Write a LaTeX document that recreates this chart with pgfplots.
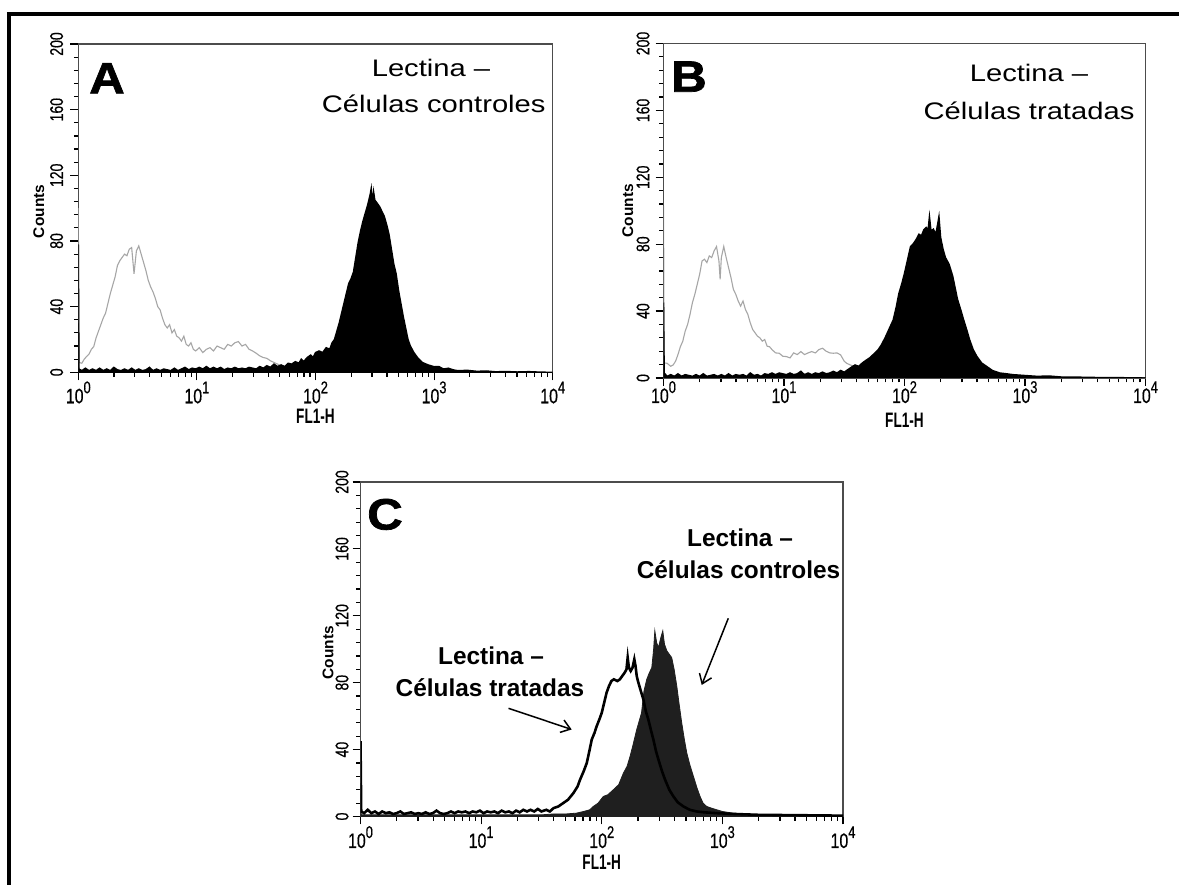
\documentclass[border=0pt]{standalone}
\usepackage{pgfplots}
\pgfplotsset{compat=1.18}
\usepackage{pgfplotstable}
\usepackage{fontspec}
\usetikzlibrary{arrows.meta}
\setmainfont{Liberation Sans}
\newfontfamily\narrowf[FakeStretch=0.76, FakeBold=0.5]{Liberation Sans}
\newfontfamily\lblf[FakeStretch=0.65]{Liberation Sans}
\newfontfamily\wideF[FakeStretch=1.22]{Liberation Sans}
\newfontfamily\heavyf[FakeBold=1.6, FakeStretch=1.12]{Liberation Sans}
\newcommand\fs[1]{\fontsize{#1}{#1}\selectfont}
\newcommand\xl[1]{\narrowf\fs{21}10\raisebox{10bp}{\fs{17}#1}}

% histogram outlines: t = log10(FL1-H), c = counts
\pgfplotstableread[row sep=\\]{
t c \\
0 78 \\ 0.006 2 \\ 0.03 1 \\ 0.06 2.5 \\ 0.09 1 \\ 0.12 2 \\ 0.15 1 \\ 0.18 2.5 \\ 0.21 1 \\ 0.24 2 \\ 0.27 1 \\ 0.30 3 \\ 0.33 1.5 \\ 0.36 1 \\ 0.39 2 \\ 0.42 1 \\ 0.45 2.5 \\ 0.48 1 \\ 0.51 2 \\ 0.54 1 \\ 0.57 1.5 \\ 0.60 3 \\ 0.63 1 \\ 0.66 2 \\ 0.69 1 \\ 0.72 2 \\ 0.75 1.5 \\ 0.78 1 \\ 0.81 2.5 \\ 0.84 1 \\ 0.87 2 \\ 0.90 3 \\ 0.93 1.5 \\ 0.96 2.5 \\ 0.99 2 \\ 1.02 3 \\ 1.05 2 \\ 1.08 3.5 \\ 1.11 2 \\ 1.14 3 \\ 1.17 2 \\ 1.20 3 \\ 1.23 1.5 \\ 1.26 2.5 \\ 1.29 2 \\ 1.32 3 \\ 1.35 2 \\ 1.38 2.5 \\ 1.41 2 \\ 1.44 3 \\ 1.47 2.5 \\ 1.50 2 \\ 1.53 3.5 \\ 1.56 2.5 \\ 1.59 4 \\ 1.62 3 \\ 1.65 5 \\ 1.68 3.5 \\ 1.71 4.5 \\ 1.74 3.5 \\ 1.77 5.5 \\ 1.80 5 \\ 1.83 6.5 \\ 1.86 5.5 \\ 1.88 8 \\ 1.90 6.5 \\ 1.93 9 \\ 1.96 10.5 \\ 1.98 9 \\ 2.00 12 \\ 2.03 13 \\ 2.06 12 \\ 2.09 15 \\ 2.12 14 \\ 2.14 18 \\ 2.16 20 \\ 2.18 25 \\ 2.20 30 \\ 2.22 36 \\ 2.24 42 \\ 2.26 48 \\ 2.28 54 \\ 2.30 57 \\ 2.32 61 \\ 2.34 70 \\ 2.36 79 \\ 2.38 86 \\ 2.40 92 \\ 2.42 97 \\ 2.44 102 \\ 2.46 108 \\ 2.47 112 \\ 2.48 103 \\ 2.49 110 \\ 2.50 105 \\ 2.52 103 \\ 2.54 101 \\ 2.56 98 \\ 2.58 95 \\ 2.60 90 \\ 2.62 84 \\ 2.64 75 \\ 2.66 66 \\ 2.68 60 \\ 2.70 50 \\ 2.72 42 \\ 2.74 34 \\ 2.76 27 \\ 2.78 20 \\ 2.80 16 \\ 2.83 12 \\ 2.86 9 \\ 2.90 6 \\ 2.95 4.5 \\ 3.00 3.4 \\ 3.04 3.5 \\ 3.08 2 \\ 3.12 2.5 \\ 3.16 1.5 \\ 3.20 1 \\ 3.28 1.2 \\ 3.36 0.6 \\ 3.44 0.8 \\ 3.52 0.3 \\ 3.60 0.5 \\ 3.70 0.2 \\ 3.80 0.4 \\ 3.90 0.1 \\ 4.00 0 \\
}\Ablack
\pgfplotstableread[row sep=\\]{
t c \\
0 100 \\ 0.006 6 \\ 0.03 5.5 \\ 0.05 8 \\ 0.07 9.6 \\ 0.09 11 \\ 0.11 14 \\ 0.13 15.6 \\ 0.15 21 \\ 0.17 25 \\ 0.19 29 \\ 0.21 33 \\ 0.23 36 \\ 0.25 42 \\ 0.27 48 \\ 0.29 53 \\ 0.31 58 \\ 0.33 65 \\ 0.35 68 \\ 0.37 70 \\ 0.39 72 \\ 0.41 71 \\ 0.43 75 \\ 0.45 76 \\ 0.47 60 \\ 0.49 74 \\ 0.51 77 \\ 0.53 72 \\ 0.55 67 \\ 0.57 62 \\ 0.59 56 \\ 0.61 52 \\ 0.63 49 \\ 0.65 45 \\ 0.67 40 \\ 0.69 38 \\ 0.71 33 \\ 0.73 29 \\ 0.75 27 \\ 0.77 29 \\ 0.79 24 \\ 0.81 26 \\ 0.83 22 \\ 0.85 21 \\ 0.87 19 \\ 0.89 22 \\ 0.91 17 \\ 0.93 16 \\ 0.95 18 \\ 0.97 14 \\ 0.99 13 \\ 1.02 15 \\ 1.05 12 \\ 1.08 14 \\ 1.11 15 \\ 1.14 13 \\ 1.17 16 \\ 1.20 15 \\ 1.23 14 \\ 1.26 17 \\ 1.29 16 \\ 1.32 18 \\ 1.35 18.7 \\ 1.38 16 \\ 1.41 17 \\ 1.44 14 \\ 1.47 13 \\ 1.50 11.6 \\ 1.53 10 \\ 1.56 9 \\ 1.59 8.5 \\ 1.62 7 \\ 1.65 6 \\ 1.68 5 \\ 1.71 4 \\ 1.74 3 \\ 1.77 2.5 \\ 1.80 2 \\ 1.85 1.5 \\ 1.90 1 \\
}\Agray
\pgfplotstableread[row sep=\\]{
t c \\
0 45 \\ 0.006 3 \\ 0.03 1 \\ 0.06 2 \\ 0.09 1 \\ 0.12 2.5 \\ 0.15 1 \\ 0.18 2 \\ 0.21 1.5 \\ 0.24 1 \\ 0.27 2 \\ 0.30 1 \\ 0.33 2.5 \\ 0.36 1 \\ 0.39 1.5 \\ 0.42 2 \\ 0.45 1 \\ 0.48 2 \\ 0.51 1 \\ 0.54 2.5 \\ 0.57 1 \\ 0.60 2 \\ 0.63 1.5 \\ 0.66 2 \\ 0.69 1 \\ 0.72 3 \\ 0.75 1.5 \\ 0.78 2 \\ 0.81 1 \\ 0.84 2.5 \\ 0.87 2 \\ 0.90 3 \\ 0.93 2 \\ 0.96 3 \\ 0.99 2.5 \\ 1.02 2 \\ 1.05 3 \\ 1.08 2 \\ 1.11 2.5 \\ 1.14 4 \\ 1.17 2 \\ 1.20 3 \\ 1.23 2 \\ 1.26 3 \\ 1.29 2.5 \\ 1.32 3.5 \\ 1.35 2.5 \\ 1.38 3 \\ 1.41 4 \\ 1.44 3 \\ 1.47 4.5 \\ 1.50 3.5 \\ 1.53 5 \\ 1.56 6.5 \\ 1.59 7.8 \\ 1.62 7 \\ 1.65 9 \\ 1.685 10.8 \\ 1.71 12 \\ 1.74 14 \\ 1.78 16.8 \\ 1.81 20 \\ 1.843 24.7 \\ 1.87 29 \\ 1.906 34.7 \\ 1.93 42 \\ 1.954 50.7 \\ 1.98 57 \\ 2.00 62.7 \\ 2.02 69 \\ 2.05 78.6 \\ 2.07 80 \\ 2.095 82.6 \\ 2.12 86 \\ 2.14 85 \\ 2.16 88.6 \\ 2.18 90 \\ 2.195 88 \\ 2.207 96.6 \\ 2.22 88 \\ 2.24 89 \\ 2.26 86 \\ 2.275 92 \\ 2.286 96.6 \\ 2.30 84 \\ 2.32 77 \\ 2.34 72 \\ 2.37 68 \\ 2.40 61 \\ 2.42 54 \\ 2.44 47 \\ 2.47 40 \\ 2.49 35 \\ 2.52 28 \\ 2.54 23 \\ 2.57 17 \\ 2.60 13 \\ 2.64 9 \\ 2.68 7 \\ 2.73 4.5 \\ 2.79 3 \\ 2.85 2.5 \\ 2.90 2 \\ 3.00 1.5 \\ 3.10 1 \\ 3.20 1.2 \\ 3.30 0.6 \\ 3.45 0.5 \\ 3.60 0.3 \\ 3.80 0.2 \\ 4.00 0 \\
}\Bblack
\pgfplotstableread[row sep=\\]{
t c \\
0 103 \\ 0.006 9 \\ 0.03 8.8 \\ 0.06 7 \\ 0.08 7.8 \\ 0.10 10 \\ 0.12 14 \\ 0.14 18.7 \\ 0.16 22 \\ 0.18 28 \\ 0.20 32 \\ 0.22 38 \\ 0.24 45 \\ 0.26 50 \\ 0.28 56 \\ 0.30 62 \\ 0.32 70 \\ 0.34 71 \\ 0.36 69 \\ 0.38 73 \\ 0.40 72 \\ 0.42 76 \\ 0.44 78.6 \\ 0.46 70 \\ 0.47 59 \\ 0.48 72 \\ 0.50 78.6 \\ 0.52 72 \\ 0.54 66 \\ 0.56 60 \\ 0.58 53 \\ 0.60 50 \\ 0.62 46 \\ 0.64 43 \\ 0.66 46 \\ 0.68 41 \\ 0.70 38 \\ 0.72 33 \\ 0.74 29 \\ 0.76 27 \\ 0.78 25 \\ 0.80 24 \\ 0.82 22 \\ 0.84 23 \\ 0.86 19 \\ 0.88 18.7 \\ 0.90 17 \\ 0.93 15 \\ 0.96 14.8 \\ 0.99 13 \\ 1.02 12.8 \\ 1.05 12 \\ 1.08 15 \\ 1.11 14 \\ 1.14 15.8 \\ 1.17 14 \\ 1.20 15 \\ 1.23 15.8 \\ 1.26 15 \\ 1.29 17 \\ 1.32 17.8 \\ 1.35 16 \\ 1.38 15 \\ 1.41 14.8 \\ 1.44 15 \\ 1.47 13.8 \\ 1.50 10 \\ 1.52 8.8 \\ 1.56 7.5 \\ 1.60 6.8 \\ 1.64 7 \\ 1.68 6 \\ 1.72 5 \\ 1.80 3 \\
}\Bgray
\pgfplotstableread[row sep=\\]{
t c \\
0 45 \\ 0.006 3 \\ 0.03 2 \\ 0.06 4 \\ 0.09 2 \\ 0.12 3 \\ 0.15 1.5 \\ 0.18 3 \\ 0.21 2 \\ 0.24 2.5 \\ 0.27 1.5 \\ 0.30 2 \\ 0.33 3 \\ 0.36 1.5 \\ 0.39 2 \\ 0.42 2.5 \\ 0.45 1.5 \\ 0.48 2 \\ 0.51 1.5 \\ 0.54 2.5 \\ 0.57 1.5 \\ 0.60 2 \\ 0.63 3.5 \\ 0.66 2 \\ 0.69 1.5 \\ 0.72 2 \\ 0.75 3 \\ 0.78 2 \\ 0.81 3 \\ 0.84 2.5 \\ 0.87 3 \\ 0.90 2 \\ 0.93 3 \\ 0.96 2.5 \\ 0.99 3.5 \\ 1.02 2 \\ 1.05 3 \\ 1.08 2.5 \\ 1.11 3 \\ 1.14 2 \\ 1.17 3.5 \\ 1.20 2.5 \\ 1.23 3 \\ 1.26 2 \\ 1.29 3.5 \\ 1.32 2.5 \\ 1.35 4 \\ 1.38 3 \\ 1.41 4 \\ 1.44 3 \\ 1.47 4.5 \\ 1.50 3 \\ 1.54 4 \\ 1.57 3 \\ 1.60 5 \\ 1.64 6 \\ 1.68 8 \\ 1.72 10 \\ 1.765 14 \\ 1.80 18 \\ 1.82 22 \\ 1.85 27 \\ 1.876 32 \\ 1.90 40 \\ 1.917 46 \\ 1.94 50 \\ 1.958 54 \\ 1.98 58 \\ 2.00 62 \\ 2.02 68 \\ 2.04 74 \\ 2.06 78 \\ 2.08 81 \\ 2.10 82 \\ 2.13 81 \\ 2.15 82 \\ 2.17 84 \\ 2.19 86 \\ 2.205 88 \\ 2.215 95 \\ 2.225 89 \\ 2.24 87 \\ 2.255 89 \\ 2.27 94 \\ 2.28 90 \\ 2.29 84 \\ 2.30 81 \\ 2.32 76 \\ 2.345 70 \\ 2.365 63 \\ 2.386 58 \\ 2.41 51 \\ 2.428 46 \\ 2.45 39 \\ 2.47 34 \\ 2.50 27 \\ 2.525 22 \\ 2.56 16 \\ 2.594 12 \\ 2.63 8.5 \\ 2.677 6 \\ 2.73 4 \\ 2.788 3 \\ 2.85 2.5 \\ 2.95 2 \\ 3.10 1.5 \\ 3.30 1 \\ 3.60 0.8 \\ 4.00 0.5 \\
}\Ctreat
\pgfplotstableread[row sep=\\]{
t c \\
0 20 \\ 0.006 1 \\ 0.5 1 \\ 1.0 1 \\ 1.5 1 \\ 1.60 1.5 \\ 1.70 1.5 \\ 1.79 2 \\ 1.85 3 \\ 1.90 4 \\ 1.93 6 \\ 1.97 8 \\ 2.013 12 \\ 2.05 13 \\ 2.096 16 \\ 2.14 19 \\ 2.18 26 \\ 2.21 30 \\ 2.235 36 \\ 2.26 43 \\ 2.29 52 \\ 2.31 57 \\ 2.33 62 \\ 2.35 75 \\ 2.373 82 \\ 2.395 86 \\ 2.415 89 \\ 2.43 100 \\ 2.44 111 \\ 2.455 104 \\ 2.47 101 \\ 2.49 107 \\ 2.506 111 \\ 2.52 103 \\ 2.54 99 \\ 2.56 97 \\ 2.58 95 \\ 2.60 88 \\ 2.622 78 \\ 2.64 68 \\ 2.663 56 \\ 2.685 46 \\ 2.705 38 \\ 2.73 31 \\ 2.76 24 \\ 2.79 17 \\ 2.815 12 \\ 2.84 8 \\ 2.87 6 \\ 2.91 5 \\ 2.954 4 \\ 3.00 3 \\ 3.09 2 \\ 3.20 1.5 \\ 3.30 1 \\ 3.50 0.5 \\ 4.00 0 \\
}\Cctrl

\begin{document}
\begin{tikzpicture}
\useasboundingbox (0bp,0bp) rectangle (1179bp,885bp);
\fill[white] (0bp,0bp) rectangle (1179bp,885bp);
\draw[line width=4.5bp] (9.2bp,0bp) -- (9.2bp,873bp);
\draw[line width=4bp] (6.95bp,871bp) -- (1179bp,871bp);

% A
\begin{axis}[at={(78.3bp,512.7bp)}, anchor=south west, width=474.4bp, height=328.3bp,
  scale only axis, xmode=log, xmin=1, xmax=10000, ymin=0, ymax=200,
  axis line style={draw=black!70, line width=1.1pt},
  tick align=outside, xtick pos=bottom, ytick pos=left,
  major tick length=8pt, minor tick length=4.5pt,
  tick style={black, line width=1.2pt},
  xtick={1,10,100,1000,10000},
  minor xtick={2,3,4,5,6,7,8,9,20,30,40,50,60,70,80,90,200,300,400,500,600,700,800,900,2000,3000,4000,5000,6000,7000,8000,9000},
  xticklabels={\xl{0},\xl{1},\xl{2},\xl{3},\xl{4}},
  ytick={0,40,80,120,160,200}, minor y tick num=4,
  /pgf/number format/assume math mode=true,
  xticklabel style={inner sep=0pt, anchor=base, yshift=-23bp},
  yticklabel style={xshift=-7bp, rotate=90, anchor=south, inner sep=0pt, font=\narrowf\fs{18.5}},
  xlabel={FL1-H}, ylabel={Counts},
  xlabel style={font=\lblf\bfseries\fs{21}, anchor=center, at={(axis description cs:0.5,-0.133)}},
  ylabel style={font=\bfseries\fs{15.5}, anchor=center, at={(axis description cs:-0.0835,0.49)}}]
  \addplot[draw=black!35, line width=1.1pt] table[x expr=10^\thisrow{t}, y=c] {\Agray};
  \addplot[draw=black, fill=black, line width=1.4pt] table[x expr=10^\thisrow{t}, y=c] {\Ablack} \closedcycle;
\end{axis}

% B
\begin{axis}[at={(663.5bp,507bp)}, anchor=south west, width=482bp, height=334.5bp,
  scale only axis, xmode=log, xmin=1, xmax=10000, ymin=0, ymax=200,
  axis line style={draw=black!70, line width=1.1pt},
  tick align=outside, xtick pos=bottom, ytick pos=left,
  major tick length=8pt, minor tick length=4.5pt,
  tick style={black, line width=1.2pt},
  xtick={1,10,100,1000,10000},
  minor xtick={2,3,4,5,6,7,8,9,20,30,40,50,60,70,80,90,200,300,400,500,600,700,800,900,2000,3000,4000,5000,6000,7000,8000,9000},
  xticklabels={\xl{0},\xl{1},\xl{2},\xl{3},\xl{4}},
  ytick={0,40,80,120,160,200}, minor y tick num=4,
  /pgf/number format/assume math mode=true,
  xticklabel style={inner sep=0pt, anchor=base, yshift=-17bp},
  yticklabel style={xshift=-5.8bp, rotate=90, anchor=south, inner sep=0pt, font=\narrowf\fs{18.5}},
  xlabel={FL1-H}, ylabel={Counts},
  xlabel style={font=\lblf\bfseries\fs{21}, anchor=center, at={(axis description cs:0.5,-0.1256)}},
  ylabel style={font=\bfseries\fs{15.5}, anchor=center, at={(axis description cs:-0.0743,0.5)}}]
  \addplot[draw=black!35, line width=1.1pt] table[x expr=10^\thisrow{t}, y=c] {\Bgray};
  \addplot[draw=black, fill=black, line width=1.4pt] table[x expr=10^\thisrow{t}, y=c] {\Bblack} \closedcycle;
\end{axis}

% C
\begin{axis}[at={(360.5bp,68.5bp)}, anchor=south west, width=482.5bp, height=334.5bp,
  scale only axis, xmode=log, xmin=1, xmax=10000, ymin=0, ymax=200,
  axis line style={draw=black!70, line width=1.1pt},
  tick align=outside, xtick pos=bottom, ytick pos=left,
  major tick length=8pt, minor tick length=4.5pt,
  tick style={black, line width=1.2pt},
  xtick={1,10,100,1000,10000},
  minor xtick={2,3,4,5,6,7,8,9,20,30,40,50,60,70,80,90,200,300,400,500,600,700,800,900,2000,3000,4000,5000,6000,7000,8000,9000},
  xticklabels={\xl{0},\xl{1},\xl{2},\xl{3},\xl{4}},
  ytick={0,40,80,120,160,200}, minor y tick num=4,
  /pgf/number format/assume math mode=true,
  xticklabel style={inner sep=0pt, anchor=base, yshift=-23.5bp},
  yticklabel style={xshift=-3.8bp, rotate=90, anchor=south, inner sep=0pt, font=\narrowf\fs{18.5}},
  xlabel={FL1-H}, ylabel={Counts},
  xlabel style={font=\lblf\bfseries\fs{21}, anchor=center, at={(axis description cs:0.5,-0.1375)}},
  ylabel style={font=\bfseries\fs{15.5}, anchor=center, at={(axis description cs:-0.0674,0.49)}}]
  \addplot[draw=black!88, fill=black!88, line width=0.8pt] table[x expr=10^\thisrow{t}, y=c] {\Cctrl} \closedcycle;
  \addplot[draw=black, line width=2.6pt] table[x expr=10^\thisrow{t}, y=c] {\Ctreat};
\end{axis}

% panel letters and captions
\begin{scope}[every node/.style={inner sep=0pt, anchor=base}]
  \node[font=\heavyf\bfseries\fs{44}] at (107bp,791.7bp) {A};
  \node[font=\heavyf\bfseries\fs{44}] at (689bp,793.3bp) {B};
  \node[font=\heavyf\bfseries\fs{44}] at (385bp,355.5bp) {C};
  \node[font=\wideF\fs{24}] at (431bp,808.3bp) {Lectina –};
  \node[font=\wideF\fs{24}] at (433.7bp,772bp) {Células controles};
  \node[font=\wideF\fs{24}] at (1029bp,803.3bp) {Lectina –};
  \node[font=\wideF\fs{24}] at (1029bp,765bp) {Células tratadas};
  \node[font=\bfseries\fs{24.5}] at (740bp,338.3bp) {Lectina –};
  \node[font=\bfseries\fs{24.5}] at (738.5bp,306.7bp) {Células controles};
  \node[font=\bfseries\fs{24.5}] at (491bp,220bp) {Lectina –};
  \node[font=\bfseries\fs{24.5}] at (490bp,188.3bp) {Células tratadas};
\end{scope}
\draw[line width=1.5bp, -{Straight Barb[length=9bp,width=13bp]}] (508.5bp,176.7bp) -- (571.7bp,155.5bp);
\draw[line width=1.5bp, -{Straight Barb[length=9bp,width=13bp]}] (728.3bp,266.7bp) -- (701.7bp,200bp);
\end{tikzpicture}
\end{document}
